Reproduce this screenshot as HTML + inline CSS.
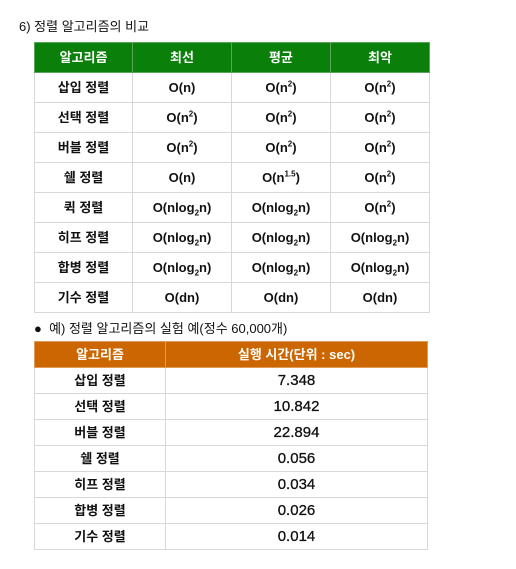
<!DOCTYPE html>
<html><head><meta charset="utf-8"><style>
body{margin:0;background:#fff;width:516px;height:569px;position:relative;overflow:hidden;font-family:"Liberation Sans","Noto Sans CJK KR",sans-serif;color:#111}
.t{position:absolute;font-size:13px}
table{position:absolute;border-collapse:collapse;table-layout:fixed}
td,th{border:1px solid #d8d8d8;text-align:center;padding:0;font-weight:bold;font-size:13px;line-height:15px}
#t1 th{background:#0a7f0a;color:#fff;height:29px;border-color:#5aa55a}
#t1 td{height:29px}
#t2 th{background:#cc6600;color:#fff;height:25px;border-color:#e09a55}
#t2 td{height:25px}
#t2 td.v{font-size:15px;font-weight:normal;-webkit-text-stroke:0.3px #111}
sup,sub{font-size:8px;line-height:0}
</style></head><body>
<div class="t" style="left:19px;top:16px">6) 정렬 알고리즘의 비교</div>
<table id="t1" style="left:34px;top:42px;width:395px">
<colgroup><col style="width:98px"><col style="width:99px"><col style="width:99px"><col style="width:99px"></colgroup>
<tr><th>알고리즘</th><th>최선</th><th>평균</th><th>최악</th></tr>
<tr><td>삽입 정렬</td><td>O(n)</td><td>O(n<sup>2</sup>)</td><td>O(n<sup>2</sup>)</td></tr>
<tr><td>선택 정렬</td><td>O(n<sup>2</sup>)</td><td>O(n<sup>2</sup>)</td><td>O(n<sup>2</sup>)</td></tr>
<tr><td>버블 정렬</td><td>O(n<sup>2</sup>)</td><td>O(n<sup>2</sup>)</td><td>O(n<sup>2</sup>)</td></tr>
<tr><td>쉘 정렬</td><td>O(n)</td><td>O(n<sup>1.5</sup>)</td><td>O(n<sup>2</sup>)</td></tr>
<tr><td>퀵 정렬</td><td>O(nlog<sub>2</sub>n)</td><td>O(nlog<sub>2</sub>n)</td><td>O(n<sup>2</sup>)</td></tr>
<tr><td>히프 정렬</td><td>O(nlog<sub>2</sub>n)</td><td>O(nlog<sub>2</sub>n)</td><td>O(nlog<sub>2</sub>n)</td></tr>
<tr><td>합병 정렬</td><td>O(nlog<sub>2</sub>n)</td><td>O(nlog<sub>2</sub>n)</td><td>O(nlog<sub>2</sub>n)</td></tr>
<tr><td>기수 정렬</td><td>O(dn)</td><td>O(dn)</td><td>O(dn)</td></tr>
</table>
<div class="t" style="left:34px;top:318px">●&nbsp; 예) 정렬 알고리즘의 실험 예(정수 60,000개)</div>
<table id="t2" style="left:34px;top:341px;width:393px">
<colgroup><col style="width:131px"><col style="width:262px"></colgroup>
<tr><th>알고리즘</th><th>실행 시간(단위 : sec)</th></tr>
<tr><td>삽입 정렬</td><td class="v">7.348</td></tr>
<tr><td>선택 정렬</td><td class="v">10.842</td></tr>
<tr><td>버블 정렬</td><td class="v">22.894</td></tr>
<tr><td>쉘 정렬</td><td class="v">0.056</td></tr>
<tr><td>히프 정렬</td><td class="v">0.034</td></tr>
<tr><td>합병 정렬</td><td class="v">0.026</td></tr>
<tr><td>기수 정렬</td><td class="v">0.014</td></tr>
</table>
</body></html>
